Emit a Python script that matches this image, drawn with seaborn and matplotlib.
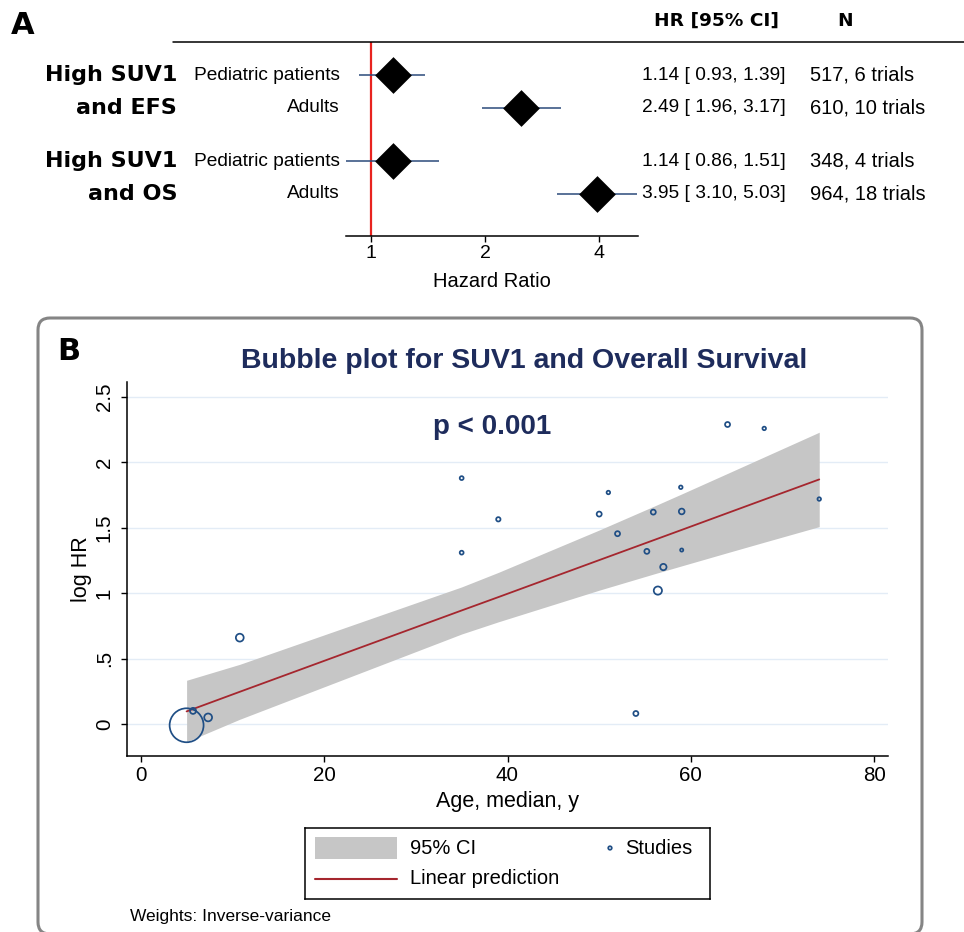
import numpy as np
import pandas as pd
import matplotlib
matplotlib.use("Agg")
import matplotlib.pyplot as plt
import seaborn as sns
from matplotlib.patches import FancyBboxPatch, Rectangle
from matplotlib.lines import Line2D
from matplotlib.transforms import blended_transform_factory, IdentityTransform
from matplotlib.ticker import FixedLocator, FixedFormatter, NullLocator

# ---------------- Panel A data (forest plot) ----------------
group_line1 = ["High SUV1", "High SUV1"]
group_line2 = ["and EFS", "and OS"]
subgroups = ["Pediatric patients", "Adults", "Pediatric patients", "Adults"]
hr = [1.14, 2.49, 1.14, 3.95]
ci_low = [0.93, 1.96, 0.86, 3.10]
ci_high = [1.39, 3.17, 1.51, 5.03]
n_patients = [517, 610, 348, 964]
n_trials = [6, 10, 4, 18]
hr_ticks = [1, 2, 4]

# ---------------- Panel B data (bubble plot) ----------------
age_median = [5.0, 5.7, 7.35, 10.8, 35.0, 35.0, 39.0, 50.0, 51.0, 52.0, 54.0,
              55.2, 55.9, 56.4, 57.0, 58.9, 59.0, 59.0, 64.0, 68.0, 74.0]
log_hr = [-0.01, 0.10, 0.05, 0.66, 1.88, 1.31, 1.565, 1.605, 1.77, 1.455, 0.08,
          1.32, 1.62, 1.02, 1.20, 1.81, 1.625, 1.33, 2.29, 2.26, 1.72]
study_weight = [92, 2.9, 4.9, 4.9, 1.2, 1.2, 1.5, 2.0, 1.0, 2.0, 2.0,
                2.0, 2.0, 5.4, 3.2, 1.0, 2.6, 0.8, 2.0, 1.0, 1.0]
fit_age = [5.0, 10.8, 35.0, 39.0, 50.0, 56.0, 59.0, 64.0, 68.0, 74.0]
fit_pred = [0.096, 0.246, 0.868, 0.970, 1.253, 1.407, 1.484, 1.613, 1.716, 1.870]
fit_upper = [0.334, 0.456, 1.048, 1.159, 1.483, 1.666, 1.759, 1.916, 2.042, 2.231]
fit_lower = [-0.136, 0.036, 0.688, 0.781, 1.023, 1.148, 1.209, 1.310, 1.390, 1.509]
x_ticks_b = [0, 20, 40, 60, 80]
y_ticks_b = [0, 0.5, 1, 1.5, 2, 2.5]
y_ticklabels_b = ["0", ".5", "1", "1.5", "2", "2.5"]

# ---------------- style ----------------
sns.set_theme(style="white")
plt.rcParams["font.family"] = ["Liberation Sans", "DejaVu Sans"]
plt.rcParams["axes.edgecolor"] = "black"
plt.rcParams["axes.labelcolor"] = "black"
plt.rcParams["text.color"] = "black"
plt.rcParams["xtick.color"] = "black"
plt.rcParams["ytick.color"] = "black"
plt.rcParams["xtick.labelcolor"] = "black"
plt.rcParams["ytick.labelcolor"] = "black"

W, H = 964, 932
def fx(x):
    return x / W
def fy(y):
    return 1 - y / H

HEAVY = ["DejaVu Sans"]
NAVY = "#1e2c5c"
PT_COL = "#1f4e85"
CI_COL = "#2b4a7a"
RED = "#e8231f"
FIT_COL = "#a5262e"
BAND_COL = "#c6c6c6"

fig = plt.figure(figsize=(W / 100, H / 100), dpi=100)

# ================= Panel A =================
axA = fig.add_axes([fx(346), fy(236), fx(638) - fx(346), fy(42) - fy(236)])
row_y = [75, 108, 161, 194]
df_a = pd.DataFrame({"hr": hr, "lo": ci_low, "hi": ci_high, "row": row_y})
axA.set_xscale("log", base=2)
axA.axvline(1, color=RED, lw=1.6, zorder=1)
axA.hlines(df_a["row"], df_a["lo"], df_a["hi"], color=CI_COL, lw=1.1, zorder=2)
sns.scatterplot(data=df_a, x="hr", y="row", marker="D", s=350, color="black",
                linewidth=0, legend=False, ax=axA, zorder=3)
axA.set_xlim(2 ** -0.22, 2 ** 2.34)
axA.set_ylim(236, 42)
for s in ["left", "top", "right"]:
    axA.spines[s].set_visible(False)
axA.spines["bottom"].set_linewidth(1.1)
axA.xaxis.set_major_locator(FixedLocator(hr_ticks))
axA.xaxis.set_major_formatter(FixedFormatter([str(t) for t in hr_ticks]))
axA.xaxis.set_minor_locator(NullLocator())
axA.set_yticks([])
axA.tick_params(axis="x", direction="out", length=4.5, width=1, labelsize=14, pad=2,
                bottom=True)
axA.set_xlabel("Hazard Ratio", fontsize=14.5, labelpad=7)
axA.set_ylabel("")

fig.add_artist(Line2D([fx(173), 1.0], [fy(42), fy(42)], transform=fig.transFigure,
                      color="black", lw=1.1))

trans = blended_transform_factory(fig.transFigure, axA.transData)
for i in range(len(subgroups)):
    axA.text(fx(340), row_y[i], subgroups[i], transform=trans, ha="right",
             va="center", fontsize=13.8)
    axA.text(fx(786), row_y[i], f"{hr[i]:.2f} [ {ci_low[i]:.2f}, {ci_high[i]:.2f}]",
             transform=trans, ha="right", va="center", fontsize=13.8)
    axA.text(fx(810), row_y[i], f"{n_patients[i]}, {n_trials[i]} trials",
             transform=trans, ha="left", va="center", fontsize=14.5)
for g in range(len(group_line1)):
    axA.text(fx(177), row_y[2 * g], group_line1[g], transform=trans, ha="right",
             va="center", fontsize=16, fontweight="heavy", family=HEAVY)
    axA.text(fx(177), row_y[2 * g + 1], group_line2[g], transform=trans, ha="right",
             va="center", fontsize=16, fontweight="heavy", family=HEAVY)

fig.text(fx(717), fy(21), "HR [95% CI]", ha="center", va="center", fontsize=13.3,
         fontweight="bold", family=HEAVY)
fig.text(fx(845), fy(21), "N", ha="center", va="center", fontsize=13.3,
         fontweight="bold", family=HEAVY)
fig.text(fx(11), fy(26), "A", ha="left", va="center", fontsize=22,
         fontweight="bold", family=HEAVY)

# ================= Panel B =================
box = FancyBboxPatch((38, H - 934), 884, 616, boxstyle="round,pad=0,rounding_size=12",
                     transform=IdentityTransform(), facecolor="white",
                     edgecolor="#858585", lw=2.2, zorder=-1)
fig.add_artist(box)

axB = fig.add_axes([fx(127), fy(756), fx(888) - fx(127), fy(382) - fy(756)])
axB.set_facecolor("none")
axB.fill_between(fit_age, fit_lower, fit_upper, color=BAND_COL, lw=0, zorder=1)
sns.lineplot(x=fit_age, y=fit_pred, color=FIT_COL, lw=1.3, ax=axB, zorder=2)
df_b = pd.DataFrame({"age": age_median, "loghr": log_hr, "w": study_weight})
area_per_weight = 6.5
sns.scatterplot(data=df_b, x="age", y="loghr", size="w",
                sizes=(0, area_per_weight * max(study_weight)),
                size_norm=(0, max(study_weight)), color=PT_COL,
                linewidth=1.25, legend=False, ax=axB, zorder=3)
pts = axB.collections[-1]
pts.set_facecolor("none")
pts.set_edgecolor(PT_COL)

axB.set_xlim(-1.5, 81.5)
axB.set_ylim(-0.245, 2.615)
axB.set_xticks(x_ticks_b)
axB.set_yticks(y_ticks_b)
axB.set_yticklabels(y_ticklabels_b, rotation=90, va="center")
axB.yaxis.grid(True, color="#e3ecf6", lw=1.0)
axB.xaxis.grid(False)
axB.set_axisbelow(True)
for s in ["top", "right"]:
    axB.spines[s].set_visible(False)
for s in ["left", "bottom"]:
    axB.spines[s].set_linewidth(1.1)
axB.tick_params(axis="both", direction="out", length=4.5, width=1, labelsize=14.8,
                left=True, bottom=True)
axB.tick_params(axis="y", pad=5)
axB.tick_params(axis="x", pad=3)
axB.set_xlabel("Age, median, y", fontsize=15.5, labelpad=4)
axB.set_ylabel("log HR", fontsize=15.5, labelpad=2)

fig.text(fx(524), fy(361), "Bubble plot for SUV1 and Overall Survival", ha="center",
         va="center", fontsize=20.5, fontweight="bold", color=NAVY)
fig.text(fx(492), fy(427), "p < 0.001", ha="center", va="center", fontsize=20,
         fontweight="bold", color=NAVY)
fig.text(fx(57), fy(351), "B", ha="left", va="center", fontsize=22,
         fontweight="bold", family=HEAVY)
fig.text(fx(130), fy(916), "Weights: Inverse-variance", ha="left", va="center",
         fontsize=12.5)

# ----- legend (drawn in its own small axes, pixel coordinates) -----
lax = fig.add_axes([fx(305), fy(899), fx(710) - fx(305), fy(828) - fy(899)])
lax.set_xlim(305, 710)
lax.set_ylim(899, 828)
lax.set_xticks([])
lax.set_yticks([])
lax.set_facecolor("white")
for s in lax.spines.values():
    s.set_visible(True)
    s.set_edgecolor("black")
    s.set_linewidth(1.1)
lax.add_patch(Rectangle((315, 837), 82, 22, facecolor=BAND_COL, edgecolor="none"))
lax.plot([315, 397], [879, 879], color=FIT_COL, lw=1.5)
lax.scatter([610], [848], s=area_per_weight * 1.0, facecolors="none",
            edgecolors=PT_COL, linewidths=1.25)
lax.text(410, 848, "95% CI", ha="left", va="center", fontsize=14.5)
lax.text(410, 879, "Linear prediction", ha="left", va="center", fontsize=14.5)
lax.text(625, 848, "Studies", ha="left", va="center", fontsize=14.5)

fig.savefig("out.png", dpi=100)
